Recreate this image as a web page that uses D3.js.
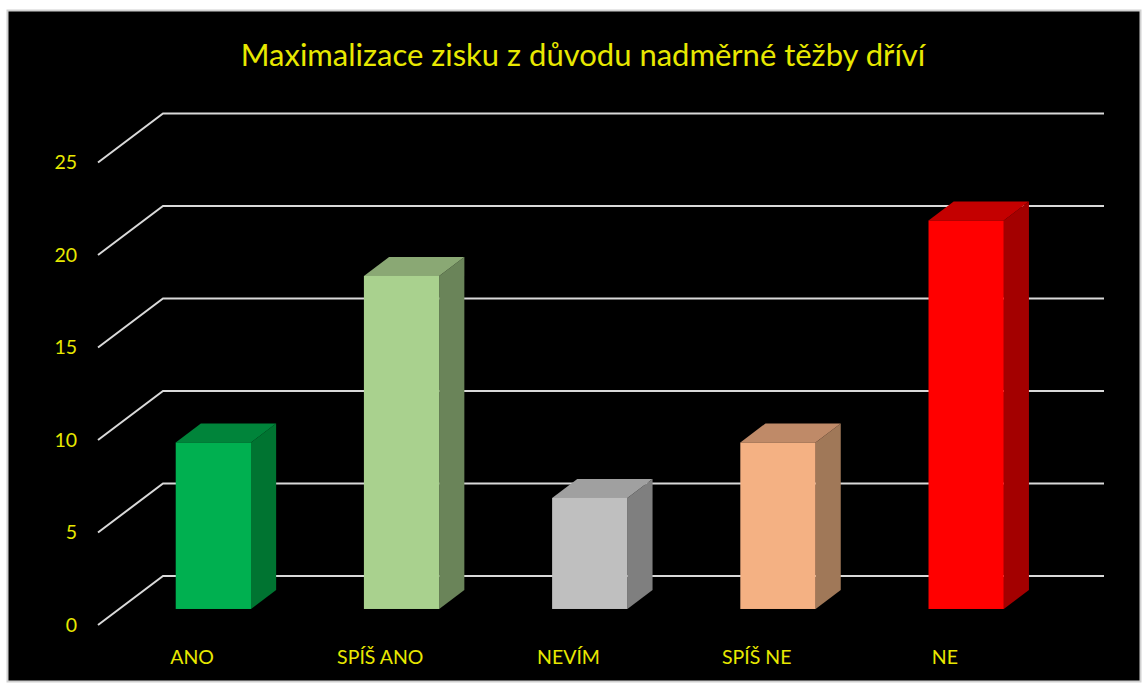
<!DOCTYPE html>
<html>
<head>
<meta charset="utf-8">
<script src="https://cdn.jsdelivr.net/npm/d3@7"></script>
<style>
  html, body { margin: 0; padding: 0; background: #fff; }
  text { font-family: Lato, "Open Sans", sans-serif; }
</style>
</head>
<body>
<svg id="chart" width="1148" height="684"></svg>
<script>
// chart data
var categories = ['ANO', 'SPÍŠ ANO', 'NEVÍM', 'SPÍŠ NE', 'NE'];
var values = [9, 18, 6, 9, 21];
var yTicks = [0, 5, 10, 15, 20, 25];
var frontColors = ['#00b050', '#a9d18e', '#bfbfbf', '#f4b183', '#ff0000'];
var sideColors = ['#007431', '#6a8459', '#7f7f7f', '#a07858', '#a30000'];
var topColors = ['#00843a', '#8aa874', '#a0a0a0', '#bf8a68', '#c40000'];
var title = 'Maximalizace zisku z důvodu nadměrné těžby dříví';

var svg = d3.select('#chart');
var yellow = '#e8e800';

// depth vector (front of floor to back wall)
var depthX = 65, depthY = -49;
var barFront = 0.327, barBack = 0.714;

var y = d3.scaleLinear().domain([0, 25]).range([625, 162.5]);
var x = d3.scaleBand().domain(categories).range([98, 1039]).padding(0);

// black plot area with gray frame
svg.append('rect')
	.attr('x', 7.5).attr('y', 10.5)
	.attr('width', 1133).attr('height', 671)
	.attr('fill', '#000')
	.attr('stroke', '#d0d0d0').attr('stroke-width', 2);

svg.append('text')
	.attr('x', 583).attr('y', 66)
	.attr('text-anchor', 'middle')
	.attr('font-size', 31)
	.attr('fill', yellow)
	.text(title);

// gridlines: left wall diagonal + back wall horizontal
var grid = svg.append('g');
yTicks.forEach(function(t){
	var fy = y(t);
	grid.append('path')
		.attr('d', 'M' + x.range()[0] + ',' + fy +
			' L' + (x.range()[0] + depthX) + ',' + (fy + depthY) +
			' L' + (x.range()[1] + depthX) + ',' + (fy + depthY))
		.attr('fill', 'none')
		.attr('stroke', '#d9d9d9').attr('stroke-width', 2);
	grid.append('text')
		.attr('x', 77).attr('y', fy)
		.attr('dy', '0.35em')
		.attr('text-anchor', 'end')
		.attr('font-size', 19.5)
		.attr('fill', yellow)
		.text(t);
});

// bars
var bars = svg.append('g');
var bd = barBack - barFront;
categories.forEach(function(c, i){
	var bw = x.bandwidth() * 0.4;
	var x0 = x(c) + (x.bandwidth() - bw) / 2 + depthX * barFront;
	var x1 = x0 + bw;
	var yb = y(0) + depthY * barFront;
	var yt = y(values[i]) + depthY * barFront;
	var dx = depthX * bd, dy = depthY * bd;
	// side
	bars.append('path')
		.attr('d', 'M' + x1 + ',' + yb + ' L' + (x1 + dx) + ',' + (yb + dy) +
			' L' + (x1 + dx) + ',' + (yt + dy) + ' L' + x1 + ',' + yt + ' Z')
		.attr('fill', sideColors[i]);
	// top
	bars.append('path')
		.attr('d', 'M' + x0 + ',' + yt + ' L' + (x0 + dx) + ',' + (yt + dy) +
			' L' + (x1 + dx) + ',' + (yt + dy) + ' L' + x1 + ',' + yt + ' Z')
		.attr('fill', topColors[i]);
	// front
	bars.append('rect')
		.attr('x', x0).attr('y', yt)
		.attr('width', bw).attr('height', yb - yt)
		.attr('fill', frontColors[i]);
	// category label, centred on the front edge of the floor
	bars.append('text')
		.attr('x', x(c) + x.bandwidth() / 2)
		.attr('y', 664)
		.attr('text-anchor', 'middle')
		.attr('font-size', 19.5)
		.attr('fill', yellow)
		.text(c);
});
</script>
</body>
</html>
